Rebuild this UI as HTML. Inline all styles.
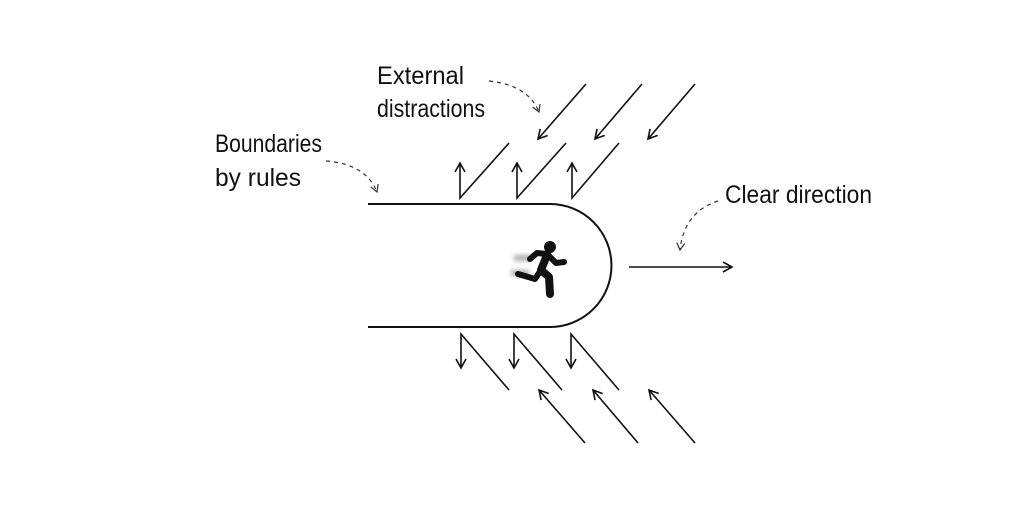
<!DOCTYPE html>
<html><head><meta charset="utf-8"><style>
html,body{margin:0;padding:0;background:#fff;width:1024px;height:529px;overflow:hidden}
svg{display:block}
text{font-family:"Liberation Sans",sans-serif;font-size:25px;fill:#111}
</style></head><body>
<svg width="1024" height="529" viewBox="0 0 1024 529" xmlns="http://www.w3.org/2000/svg">
<defs>
<marker id="a" markerWidth="12" markerHeight="12" refX="10" refY="6" orient="auto" markerUnits="userSpaceOnUse">
<path d="M1,1 L10,6 L1,11" fill="none" stroke="#111" stroke-width="1.6"/></marker>
<marker id="d" markerWidth="10" markerHeight="10" refX="8" refY="5" orient="auto" markerUnits="userSpaceOnUse">
<path d="M1,1 L8,5 L1,9" fill="none" stroke="#333" stroke-width="1.2"/></marker>
<filter id="b"><feGaussianBlur stdDeviation="2.5"/></filter>
</defs>
<g stroke="#111" stroke-width="2" fill="none">
<path d="M368,204 H550 A61.5,61.5 0 0 1 550,327 H368"/>
</g>
<g stroke="#111" stroke-width="1.6" fill="none">
<line x1="629" y1="267" x2="732" y2="267" marker-end="url(#a)"/>
<path d="M509,143 L460,198 L460,163" marker-end="url(#a)"/>
<path d="M566,143 L517,198 L517,163" marker-end="url(#a)"/>
<path d="M619,143 L572,198 L572,163" marker-end="url(#a)"/>
<line x1="586" y1="84" x2="538" y2="139" marker-end="url(#a)"/>
<line x1="642" y1="84" x2="595" y2="139" marker-end="url(#a)"/>
<line x1="695" y1="84" x2="648" y2="139" marker-end="url(#a)"/>
<path d="M509,390 L461,334 L461,368" marker-end="url(#a)"/>
<path d="M562,390 L514,334 L514,368" marker-end="url(#a)"/>
<path d="M619,390 L571,334 L571,368" marker-end="url(#a)"/>
<line x1="585" y1="443" x2="539" y2="390" marker-end="url(#a)"/>
<line x1="638" y1="443" x2="593" y2="390" marker-end="url(#a)"/>
<line x1="695" y1="443" x2="649" y2="390" marker-end="url(#a)"/>
</g>
<g stroke="#333" stroke-width="1.2" fill="none" stroke-dasharray="4,4">
<path d="M489,81 Q528,85 539,112" marker-end="url(#d)"/>
<path d="M326,161 Q366,164 377,192" marker-end="url(#d)"/>
<path d="M718,201 Q684,212 680,250" marker-end="url(#d)"/>
</g>
<g filter="url(#b)" fill="#777" opacity="0.6"><rect x="514" y="255" width="18" height="6"/><rect x="511" y="270" width="18" height="6"/></g>
<g fill="#111" stroke="#111" stroke-linecap="round" stroke-linejoin="round">
<circle cx="550" cy="247" r="6" stroke="none"/>
<path d="M530,259 L537,253 L547,254 L556,263 L564,262" fill="none" stroke-width="6"/>
<path d="M547,255 L541,270 L549,277 L550,294" fill="none" stroke-width="8"/>
<path d="M541,270 L535,279 L518,274" fill="none" stroke-width="6"/>
</g>
<text x="377" y="84" textLength="87" lengthAdjust="spacingAndGlyphs">External</text>
<text x="377" y="117" textLength="108" lengthAdjust="spacingAndGlyphs">distractions</text>
<text x="215" y="152" textLength="107" lengthAdjust="spacingAndGlyphs">Boundaries</text>
<text x="215" y="186" textLength="86" lengthAdjust="spacingAndGlyphs">by rules</text>
<text x="725" y="203" textLength="147" lengthAdjust="spacingAndGlyphs">Clear direction</text>
</svg>
</body></html>
